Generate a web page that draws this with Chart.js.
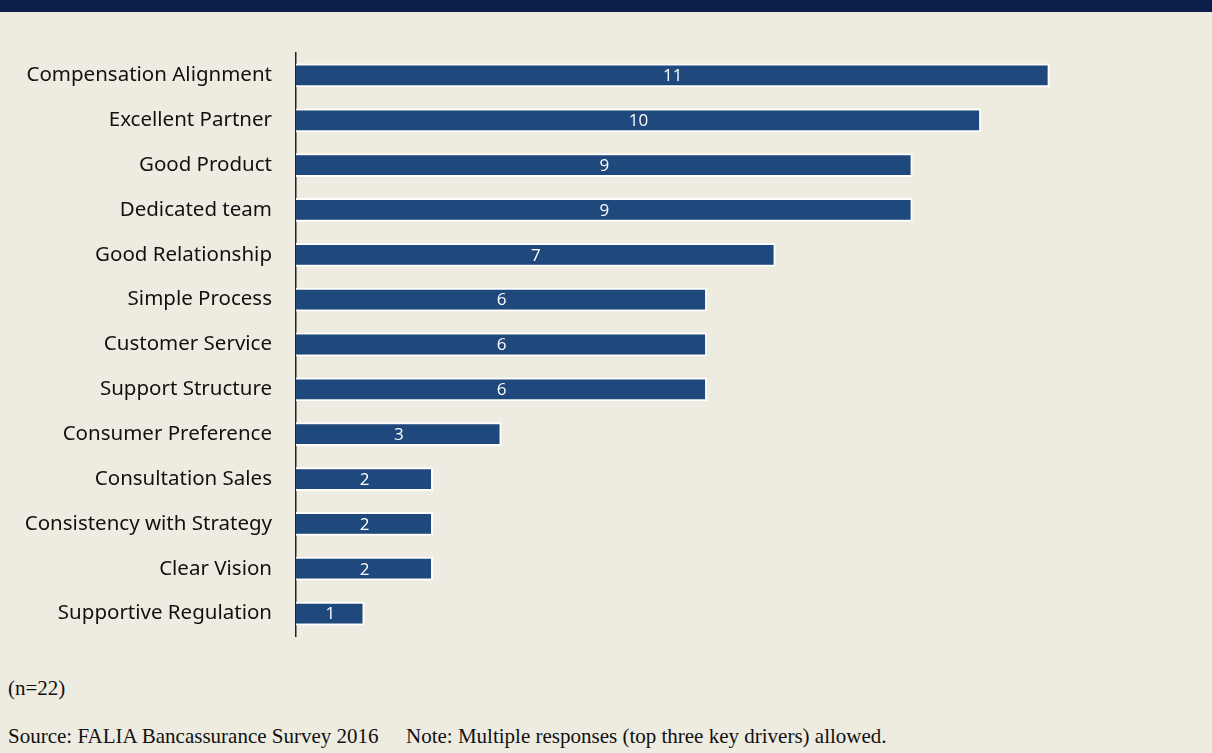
<!DOCTYPE html>
<html>
<head>
<meta charset="utf-8">
<script src="https://cdn.jsdelivr.net/npm/chart.js@4/dist/chart.umd.min.js"></script>
<style>
  html, body { margin: 0; padding: 0; background: #eeebe0; width: 1212px; height: 753px; overflow: hidden; }
  .band { position: absolute; left: 0; top: 0; width: 1212px; height: 12px; background: #0c1f4a; }
  .wrap { position: absolute; left: 0; top: 40px; width: 1212px; height: 600px; }
  .note { position: absolute; font-family: "Liberation Serif", "Times New Roman", serif; font-size: 21px; line-height: 1; color: #111; white-space: pre; }
</style>
</head>
<body>
<div class="band"></div>
<div class="wrap"><canvas id="chart"></canvas></div>
<div class="note" style="left:8px; top:678px">(n=22)</div>
<div class="note" style="left:8px; top:726px">Source: FALIA Bancassurance Survey 2016</div>
<div class="note" style="left:406px; top:726px">Note: Multiple responses (top three key drivers) allowed.</div>
<script>
const categories = [
    'Compensation Alignment',
    'Excellent Partner',
    'Good Product',
    'Dedicated team',
    'Good Relationship',
    'Simple Process',
    'Customer Service',
    'Support Structure',
    'Consumer Preference',
    'Consultation Sales',
    'Consistency with Strategy',
    'Clear Vision',
    'Supportive Regulation'
];
const responses = [11, 10, 9, 9, 7, 6, 6, 6, 3, 2, 2, 2, 1];

// draws the value in the middle of each bar
const centerLabels = {
    id: 'centerLabels',
    afterDatasetsDraw(chart) {
        const ctx = chart.ctx;
        ctx.save();
        ctx.fillStyle = '#ffffff';
        ctx.font = '17px "Open Sans", sans-serif';
        ctx.textAlign = 'center';
        ctx.textBaseline = 'middle';
        chart.getDatasetMeta(0).data.forEach((bar, i) => {
            ctx.fillText(String(responses[i]), (bar.x + bar.base) / 2, bar.y + 1);
        });
        ctx.restore();
    }
};

new Chart(document.getElementById('chart'), {
    type: 'bar',
    data: {
        labels: categories,
        datasets: [{
            data: responses,
            backgroundColor: '#1f497d',
            borderColor: '#ffffff',
            borderWidth: 2,
            categoryPercentage: 1,
            barPercentage: 0.53
        }]
    },
    options: {
        indexAxis: 'y',
        responsive: true,
        maintainAspectRatio: false,
        animation: false,
        layout: { padding: { top: 13, bottom: 4, left: 0, right: 0 } },
        scales: {
            x: {
                display: false,
                min: 0,
                max: 13.37
            },
            y: {
                afterFit: s => {
                    s.width = 296;
                    s.paddingTop = 0;
                    s.paddingBottom = 0;
                },
                grid: { display: false },
                border: { display: true, color: '#222', width: 1.5 },
                ticks: {
                    color: '#111',
                    padding: 16,
                    font: { family: '"Noto Sans", sans-serif', size: 20.5 }
                }
            }
        },
        plugins: {
            legend: { display: false },
            tooltip: { enabled: false }
        }
    },
    plugins: [centerLabels]
});
</script>
</body>
</html>
